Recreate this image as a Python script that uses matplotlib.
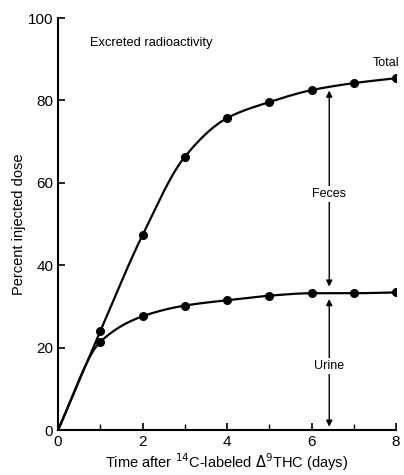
import matplotlib.pyplot as plt
import numpy as np

# 数据
days = [0, 1, 2, 3, 4, 5, 6, 7, 8]
total = [0, 24.0, 47.3, 66.3, 75.7, 79.6, 82.5, 84.2, 85.4]
urine = [0, 21.4, 27.6, 30.2, 31.5, 32.6, 33.2, 33.2, 33.4]

x_ticks = [0, 2, 4, 6, 8]
y_ticks = [0, 20, 40, 60, 80, 100]
arrow_x = 6.42


def pchip(x, y, xs):
    # 单调三次插值，只用于把曲线画得平滑
    x = np.asarray(x, float)
    y = np.asarray(y, float)
    h = np.diff(x)
    d = np.diff(y) / h
    m = np.zeros_like(y)
    for k in range(1, len(x) - 1):
        if d[k - 1] * d[k] > 0:
            w1 = 2 * h[k] + h[k - 1]
            w2 = h[k] + 2 * h[k - 1]
            m[k] = (w1 + w2) / (w1 / d[k - 1] + w2 / d[k])
    m[0] = d[0]
    m[-1] = d[-1]
    idx = np.clip(np.searchsorted(x, xs) - 1, 0, len(x) - 2)
    t = (xs - x[idx]) / h[idx]
    h00 = 2 * t**3 - 3 * t**2 + 1
    h10 = t**3 - 2 * t**2 + t
    h01 = -2 * t**3 + 3 * t**2
    h11 = t**3 - t**2
    return h00 * y[idx] + h10 * h[idx] * m[idx] + h01 * y[idx + 1] + h11 * h[idx] * m[idx + 1]


plt.rcParams['font.family'] = ['Liberation Sans', 'DejaVu Sans']

fig = plt.figure(figsize=(4.04, 4.75), dpi=100)
ax = fig.add_axes([0.1436, 0.0947, 0.8366, 0.8673])

xs = np.linspace(0, 8, 400)
ax.plot(xs, pchip(days, total, xs), color='black', lw=1.6)
ax.plot(xs, pchip(days, urine, xs), color='black', lw=1.6)
ax.plot(days[1:], total[1:], 'o', color='black', ms=5.5)
ax.plot(days[1:], urine[1:], 'o', color='black', ms=5.5)

# 箭头
arrow_props = dict(arrowstyle='-|>', color='black', lw=1.0, mutation_scale=9, shrinkA=0, shrinkB=0)
ax.annotate('', xy=(arrow_x, 82.4), xytext=(arrow_x, 57.3), arrowprops=arrow_props)
ax.annotate('', xy=(arrow_x, 34.8), xytext=(arrow_x, 57.3), arrowprops=arrow_props)
ax.annotate('', xy=(arrow_x, 31.8), xytext=(arrow_x, 15.6), arrowprops=arrow_props)
ax.annotate('', xy=(arrow_x, 0.8), xytext=(arrow_x, 15.6), arrowprops=arrow_props)
box = dict(facecolor='white', edgecolor='none', pad=1.5)
ax.text(arrow_x, 57.3, 'Feces', ha='center', va='center', fontsize=9, bbox=box)
ax.text(arrow_x, 15.6, 'Urine', ha='center', va='center', fontsize=9, bbox=box)

ax.text(0.76, 94, 'Excreted radioactivity', ha='left', va='center', fontsize=9.3)
ax.text(7.45, 89, 'Total', ha='left', va='center', fontsize=9)

ax.set_xlim(0, 8)
ax.set_ylim(0, 100)
ax.set_xticks(x_ticks)
ax.set_xticks(range(0, 9), minor=True)
ax.set_yticks(y_ticks)
ax.tick_params(axis='both', direction='in', labelsize=11, width=1.2, length=5)
ax.tick_params(axis='x', which='minor', direction='in', length=4, width=1.0)
ax.spines['top'].set_visible(False)
ax.spines['right'].set_visible(False)
ax.spines['left'].set_linewidth(1.5)
ax.spines['bottom'].set_linewidth(1.5)

ax.set_xlabel('Time after $^{14}$C-labeled $\\Delta^9$THC (days)', fontsize=10.5, labelpad=2)
ax.set_ylabel('Percent injected dose', fontsize=10.5, labelpad=1)

fig.savefig('out.png', dpi=100)
